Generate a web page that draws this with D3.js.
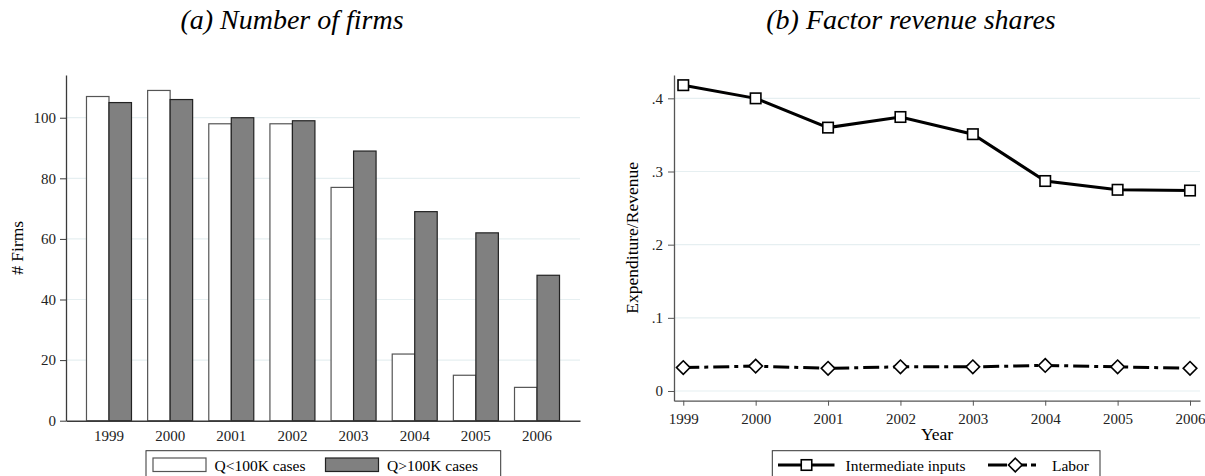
<!DOCTYPE html>
<html>
<head>
<meta charset="utf-8">
<script src="https://cdn.jsdelivr.net/npm/d3@7"></script>
<style>
  body { margin: 0; background: #fff; }
  svg { display: block; font-family: "Liberation Serif", "Times New Roman", serif; }
  .tick text { font-size: 15px; fill: #222; font-family: "Liberation Serif", "Times New Roman", serif; }
</style>
</head>
<body>
<div id="chart"></div>
<script>
// data
const years = ["1999", "2000", "2001", "2002", "2003", "2004", "2005", "2006"];
const firmsSmall = [107, 109, 98, 98, 77, 22, 15, 11];   // Q<100K cases
const firmsLarge = [105, 106, 100, 99, 89, 69, 62, 48];  // Q>100K cases
const firmTicks = [0, 20, 40, 60, 80, 100];

const yearNums = [1999, 2000, 2001, 2002, 2003, 2004, 2005, 2006];
const intermediate = [0.418, 0.400, 0.360, 0.3745, 0.351, 0.287, 0.275, 0.274];
const labor = [0.032, 0.034, 0.031, 0.033, 0.033, 0.035, 0.033, 0.031];
const shareTicks = [0, 0.1, 0.2, 0.3, 0.4];

const barSeries = ["Q<100K cases", "Q>100K cases"];
const lineSeries = ["Intermediate inputs", "Labor"];

const width = 1205;
const height = 476;
const serif = "'Liberation Serif', 'Times New Roman', serif";
const gridColor = "#e6eff1";
const axisColor = "#3a3a3a";

const svg = d3.select("#chart").append("svg")
  .attr("width", width)
  .attr("height", height);

// ---------- panel (a): bars ----------
const aLeft = 66, aRight = 580, aTop = 75, aBottom = 420.7;

svg.append("text")
  .attr("x", 292).attr("y", 29)
  .attr("text-anchor", "middle")
  .style("font-size", "28px").style("font-style", "italic")
  .text("(a) Number of firms");

const x0 = d3.scaleBand()
  .domain(years)
  .range([aLeft, aRight])
  .paddingInner(0.264)
  .paddingOuter(0.335);

const x1 = d3.scaleBand()
  .domain([0, 1])
  .range([0, x0.bandwidth()]);

const yA = d3.scaleLinear()
  .domain([0, 114.1])
  .range([aBottom, aTop]);

// gridlines
svg.append("g")
  .selectAll("line")
  .data(firmTicks.filter(d => d > 0))
  .join("line")
  .attr("x1", aLeft).attr("x2", aRight)
  .attr("y1", d => yA(d)).attr("y2", d => yA(d))
  .attr("stroke", gridColor).attr("stroke-width", 1.2);

const barRows = years.map((y, i) => [firmsSmall[i], firmsLarge[i]]);
const barFills = ["#ffffff", "#808080"];
const barStrokes = ["#555", "#222"];

svg.append("g")
  .selectAll("g")
  .data(barRows)
  .join("g")
  .attr("transform", (d, i) => `translate(${x0(years[i])},0)`)
  .selectAll("rect")
  .data(d => d.map((v, k) => ({ v, k })))
  .join("rect")
  .attr("x", d => x1(d.k))
  .attr("width", x1.bandwidth())
  .attr("y", d => yA(d.v))
  .attr("height", d => aBottom - yA(d.v))
  .attr("fill", d => barFills[d.k])
  .attr("stroke", d => barStrokes[d.k])
  .attr("stroke-width", 1.2);

// y axis
const yAxisA = svg.append("g")
  .attr("transform", `translate(${aLeft},0)`)
  .call(d3.axisLeft(yA).tickValues(firmTicks).tickSize(6).tickPadding(4).tickSizeOuter(0))
  .attr("font-family", serif);
yAxisA.select(".domain").attr("stroke", axisColor).attr("stroke-width", 1.3);
yAxisA.selectAll(".tick line").attr("stroke", axisColor);

// x axis
const xAxisA = svg.append("g")
  .attr("transform", `translate(0,${aBottom})`)
  .call(d3.axisBottom(x0).tickSize(0).tickPadding(9.6).tickSizeOuter(0))
  .attr("font-family", serif);
xAxisA.select(".domain").attr("stroke", axisColor).attr("stroke-width", 1.5);

svg.append("text")
  .attr("transform", `translate(23,${(aTop + aBottom) / 2}) rotate(-90)`)
  .attr("text-anchor", "middle")
  .style("font-size", "17.5px")
  .text("# Firms");

// legend (a)
const legA = svg.append("g");
legA.append("rect")
  .attr("x", 146).attr("y", 450.7).attr("width", 354.7).attr("height", 40)
  .attr("fill", "#fff").attr("stroke", "#333").attr("stroke-width", 1);
const legAX = [153, 325.5];
barSeries.forEach((s, k) => {
  legA.append("rect")
    .attr("x", legAX[k]).attr("y", 458).attr("width", 53).attr("height", 13.5)
    .attr("fill", barFills[k]).attr("stroke", barStrokes[k]).attr("stroke-width", 1.2);
  legA.append("text")
    .attr("x", legAX[k] + 61.5).attr("y", 470.5)
    .style("font-size", "15.5px")
    .text(s);
});

// ---------- panel (b): lines ----------
const bLeft = 674, bRight = 1200, bTop = 75, bAxisY = 400.7;

svg.append("text")
  .attr("x", 911).attr("y", 29)
  .attr("text-anchor", "middle")
  .style("font-size", "28px").style("font-style", "italic")
  .text("(b) Factor revenue shares");

const xB = d3.scaleLinear()
  .domain([1998.872, 2006.138])
  .range([bLeft, bRight]);

const yB = d3.scaleLinear()
  .domain([-0.01326, 0.4319])
  .range([bAxisY, bTop]);

svg.append("g")
  .selectAll("line")
  .data(shareTicks)
  .join("line")
  .attr("x1", bLeft).attr("x2", bRight)
  .attr("y1", d => yB(d)).attr("y2", d => yB(d))
  .attr("stroke", gridColor).attr("stroke-width", 1.2);

const fmtShare = d => d === 0 ? "0" : d3.format(".1f")(d).replace(/^0/, "");

const yAxisB = svg.append("g")
  .attr("transform", `translate(${bLeft},0)`)
  .call(d3.axisLeft(yB).tickValues(shareTicks).tickFormat(fmtShare).tickSize(6).tickPadding(5).tickSizeOuter(0))
  .attr("font-family", serif);
yAxisB.select(".domain").attr("stroke", "#555").attr("stroke-width", 1.3);
yAxisB.selectAll(".tick line").attr("stroke", "#555");

const xAxisB = svg.append("g")
  .attr("transform", `translate(0,${bAxisY})`)
  .call(d3.axisBottom(xB).tickValues(yearNums).tickFormat(d3.format("d")).tickSize(5).tickPadding(7.7).tickSizeOuter(0))
  .attr("font-family", serif);
xAxisB.select(".domain").attr("stroke", "#555").attr("stroke-width", 1.3);
xAxisB.selectAll(".tick line").attr("stroke", "#555");

svg.append("text")
  .attr("x", (bLeft + bRight) / 2).attr("y", 439.5)
  .attr("text-anchor", "middle")
  .style("font-size", "17.5px")
  .text("Year");

svg.append("text")
  .attr("transform", `translate(638,${(bTop + bAxisY) / 2}) rotate(-90)`)
  .attr("text-anchor", "middle")
  .style("font-size", "17.5px")
  .text("Expenditure/Revenue");

const line = d3.line()
  .x((d, i) => xB(yearNums[i]))
  .y(d => yB(d));

const laborDash = "16,5,4,5";

svg.append("path")
  .datum(intermediate)
  .attr("d", line)
  .attr("fill", "none").attr("stroke", "#000").attr("stroke-width", 3);

svg.append("path")
  .datum(labor)
  .attr("d", line)
  .attr("fill", "none").attr("stroke", "#000").attr("stroke-width", 3)
  .attr("stroke-dasharray", laborDash);

const sq = 10.5;
svg.append("g")
  .selectAll("rect")
  .data(intermediate)
  .join("rect")
  .attr("x", (d, i) => xB(yearNums[i]) - sq / 2)
  .attr("y", d => yB(d) - sq / 2)
  .attr("width", sq).attr("height", sq)
  .attr("fill", "#fff").attr("stroke", "#000").attr("stroke-width", 1.6);

const dm = 6.8;
const diamond = (cx, cy) => `M${cx},${cy - dm}L${cx + dm},${cy}L${cx},${cy + dm}L${cx - dm},${cy}Z`;
svg.append("g")
  .selectAll("path")
  .data(labor)
  .join("path")
  .attr("d", (d, i) => diamond(xB(yearNums[i]), yB(d)))
  .attr("fill", "#fff").attr("stroke", "#000").attr("stroke-width", 1.6);

// legend (b)
const legB = svg.append("g");
legB.append("rect")
  .attr("x", 772.3).attr("y", 450.7).attr("width", 327.7).attr("height", 40)
  .attr("fill", "#fff").attr("stroke", "#333").attr("stroke-width", 1);
const keyY = 465;
legB.append("line")
  .attr("x1", 778).attr("x2", 834.5).attr("y1", keyY).attr("y2", keyY)
  .attr("stroke", "#000").attr("stroke-width", 3);
legB.append("rect")
  .attr("x", 806.5 - sq / 2).attr("y", keyY - sq / 2).attr("width", sq).attr("height", sq)
  .attr("fill", "#fff").attr("stroke", "#000").attr("stroke-width", 1.6);
legB.append("text")
  .attr("x", 845.5).attr("y", 470.5)
  .style("font-size", "15.5px")
  .text(lineSeries[0]);
legB.append("line")
  .attr("x1", 988).attr("x2", 1045).attr("y1", keyY).attr("y2", keyY)
  .attr("stroke", "#000").attr("stroke-width", 3)
  .attr("stroke-dasharray", "19,8,12,4,5");
legB.append("path")
  .attr("d", diamond(1015.3, keyY))
  .attr("fill", "#fff").attr("stroke", "#000").attr("stroke-width", 1.6);
legB.append("text")
  .attr("x", 1052).attr("y", 470.5)
  .style("font-size", "15.5px")
  .text(lineSeries[1]);
</script>
</body>
</html>
